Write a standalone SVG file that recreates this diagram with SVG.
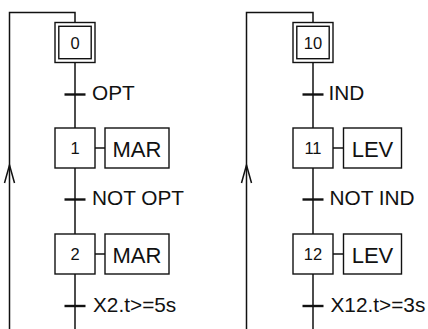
<svg xmlns="http://www.w3.org/2000/svg" width="428" height="329" viewBox="0 0 428 329">
<style>
.bg{fill:#fff}
.box{fill:#fff;stroke:#111;stroke-width:1.4}
.ln{fill:none;stroke:#111;stroke-width:1.5}
.tk{stroke:#111;stroke-width:2.4}
.num{font-family:"Liberation Sans",Arial,sans-serif;font-size:16.5px;fill:#111;text-anchor:middle}
.act{font-family:"Liberation Sans",Arial,sans-serif;font-size:22px;fill:#111;text-anchor:middle}
.lbl{font-family:"Liberation Sans",Arial,sans-serif;font-size:20.8px;fill:#111}
</style>
<rect class="bg" x="0" y="0" width="428" height="329"/>
<g id="connectors">
  <path class="ln" d="M75,22.5 V12.5 H9.5 V329"/>
  <path class="ln" d="M4.5,183 L9.5,165 L14.5,183"/>
  <path class="ln" d="M75,62.5 V128"/>
  <path class="ln" d="M75,168 V234"/>
  <path class="ln" d="M75,274 V329"/>
  <path class="ln" d="M95,148 H105"/>
  <path class="ln" d="M95,254 H105"/>
  <path class="ln" d="M313,22.5 V12.5 H246.5 V329"/>
  <path class="ln" d="M241.5,183 L246.5,165 L251.5,183"/>
  <path class="ln" d="M313,62.5 V128"/>
  <path class="ln" d="M313,168 V234"/>
  <path class="ln" d="M313,274 V329"/>
  <path class="ln" d="M333,148 H343.5"/>
  <path class="ln" d="M333,254 H343.5"/>
</g>
<g id="step0">
  <rect class="box" x="55" y="22.5" width="40" height="40"/>
  <rect class="box" x="58.8" y="26.3" width="32.4" height="32.4"/>
  <text class="num" x="75" y="48.5">0</text>
</g>
<g id="t0_1">
  <line class="tk" x1="64.5" y1="94.5" x2="85.5" y2="94.5"/>
  <text class="lbl" x="92" y="100">OPT</text>
</g>
<g id="step1">
  <rect class="box" x="55" y="128" width="40" height="40"/>
  <text class="num" x="75" y="154">1</text>
</g>
<g id="action1">
  <rect class="box" x="105" y="128" width="64" height="40"/>
  <text class="act" x="137" y="156.5">MAR</text>
</g>
<g id="t1_2">
  <line class="tk" x1="64.5" y1="199.5" x2="85.5" y2="199.5"/>
  <text class="lbl" x="92" y="205">NOT OPT</text>
</g>
<g id="step2">
  <rect class="box" x="55" y="234" width="40" height="40"/>
  <text class="num" x="75" y="260">2</text>
</g>
<g id="action2">
  <rect class="box" x="105" y="234" width="64" height="40"/>
  <text class="act" x="137" y="262.5">MAR</text>
</g>
<g id="t2_0">
  <line class="tk" x1="64.5" y1="306" x2="85.5" y2="306"/>
  <text class="lbl" x="93" y="311.5">X2.t&gt;=5s</text>
</g>
<g id="step10">
  <rect class="box" x="293" y="22.5" width="40" height="40"/>
  <rect class="box" x="296.8" y="26.3" width="32.4" height="32.4"/>
  <text class="num" x="313" y="48.5">10</text>
</g>
<g id="t10_11">
  <line class="tk" x1="302.5" y1="94.5" x2="323.5" y2="94.5"/>
  <text class="lbl" x="328.5" y="100">IND</text>
</g>
<g id="step11">
  <rect class="box" x="293" y="128" width="40" height="40"/>
  <text class="num" x="313" y="154">11</text>
</g>
<g id="action11">
  <rect class="box" x="343.5" y="128" width="58" height="40"/>
  <text class="act" x="372.5" y="156.5">LEV</text>
</g>
<g id="t11_12">
  <line class="tk" x1="302.5" y1="199.5" x2="323.5" y2="199.5"/>
  <text class="lbl" x="329.5" y="205">NOT IND</text>
</g>
<g id="step12">
  <rect class="box" x="293" y="234" width="40" height="40"/>
  <text class="num" x="313" y="260">12</text>
</g>
<g id="action12">
  <rect class="box" x="343.5" y="234" width="58" height="40"/>
  <text class="act" x="372.5" y="262.5">LEV</text>
</g>
<g id="t12_10">
  <line class="tk" x1="302.5" y1="306" x2="323.5" y2="306"/>
  <text class="lbl" x="330.5" y="311.5">X12.t&gt;=3s</text>
</g>
</svg>
